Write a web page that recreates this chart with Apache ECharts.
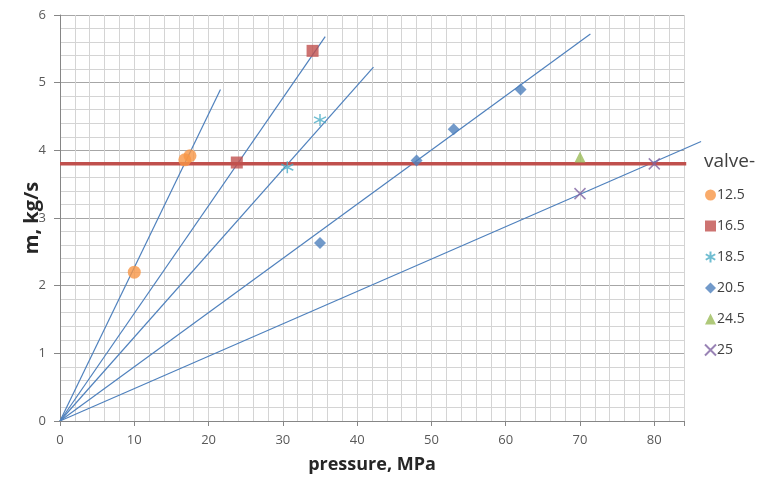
<!DOCTYPE html>
<html><head><meta charset="utf-8">
<script src="https://cdn.jsdelivr.net/npm/echarts@6/dist/echarts.min.js"></script>
<style>html,body{margin:0;padding:0;background:#fff}#c{width:763px;height:481px}</style>
</head><body><div id="c"></div>
<script>
// ---- data ----
const valveNames = ['12.5', '16.5', '18.5', '20.5', '24.5', '25'];
const pts125 = [[10, 2.2], [16.8, 3.86], [17.5, 3.92]];
const pts165 = [[23.8, 3.82], [34.0, 5.47]];
const pts185 = [[30.6, 3.75], [35.0, 4.45]];
const pts205 = [[35.0, 2.63], [48.0, 3.85], [53.0, 4.31], [62.0, 4.90]];
const pts245 = [[70.0, 3.90]];
const pts25  = [[70.0, 3.36], [80.0, 3.80]];
// trend lines (from origin to drawn end)
const trendEnds = [[21.6, 4.90], [35.7, 5.68], [42.2, 5.23], [71.4, 5.72], [86.3, 4.13]];
const limitLevel = 3.8;
const limitRange = [0, 84.3];
const xTicks = [0, 10, 20, 30, 40, 50, 60, 70, 80];
const yTicks = [0, 1, 2, 3, 4, 5, 6];

const colors = ['#F79646', '#C0504D', '#4BACC6', '#4F81BD', '#9BBB59', '#8064A2'];
const FONT = '"Open Sans", "Liberation Sans", sans-serif';

const chart = echarts.init(document.getElementById('c'), null, {renderer: 'canvas'});
const series = [];
series.push({
  type: 'custom', name: 'trend', data: trendEnds, clip: false, silent: true, z: 2,
  encode: {x: 0, y: 1},
  renderItem: function (params, api) {
    const p0 = api.coord([0, 0]);
    const p1 = api.coord([api.value(0), api.value(1)]);
    return {type: 'line', shape: {x1: p0[0], y1: p0[1], x2: p1[0], y2: p1[1]},
            style: {stroke: '#4F81BD', lineWidth: 1.2}};
  }
});
series.push({
  type: 'line', name: 'limit', data: [[limitRange[0], limitLevel], [limitRange[1], limitLevel]],
  symbol: 'none', clip: false, z: 3, lineStyle: {color: '#C0504D', width: 3.5}
});
const symSpec = [
  {symbol: 'circle', size: 13, style: {color: colors[0]}},
  {symbol: 'rect', size: 12, style: {color: colors[1]}},
  {symbol: 'path://M5,0L5,10M0.7,2.5L9.3,7.5M0.7,7.5L9.3,2.5', size: 12,
   style: {color: 'rgba(0,0,0,0)', borderColor: colors[2], borderWidth: 1.5}},
  {symbol: 'diamond', size: 12, style: {color: colors[3]}},
  {symbol: 'triangle', size: 11, style: {color: colors[4]}},
  {symbol: 'path://M0,0L10,10M0,10L10,0', size: 11,
   style: {color: 'rgba(0,0,0,0)', borderColor: colors[5], borderWidth: 1.5}}
];
const ptSets = [pts125, pts165, pts185, pts205, pts245, pts25];
ptSets.forEach((d, i) => {
  series.push({
    type: 'scatter', name: valveNames[i], data: d, z: 5,
    symbol: symSpec[i].symbol, symbolSize: symSpec[i].size,
    itemStyle: symSpec[i].style
  });
});

const axisLabel = {color: '#595959', fontSize: 13, fontFamily: FONT};
const nameStyle = {fontWeight: 'bold', color: '#262626', fontFamily: FONT};
chart.setOption({
  animation: false,
  backgroundColor: '#fff',
  grid: {left: 60, right: 79, top: 15, bottom: 60, containLabel: false},
  xAxis: [{
    type: 'value', min: 0, max: 84, interval: 10,
    name: 'pressure, MPa', nameLocation: 'middle', nameGap: 35,
    nameTextStyle: Object.assign({fontSize: 18}, nameStyle),
    axisLine: {show: true, lineStyle: {color: '#868686'}},
    axisTick: {show: true, length: 5, lineStyle: {color: '#868686'}},
    axisLabel: Object.assign({margin: 13, formatter: v => xTicks.includes(v) ? String(v) : ''}, axisLabel),
    splitLine: {show: false}, z: 3
  }, {
    type: 'value', min: 0, max: 84, interval: 2, position: 'bottom',
    axisLine: {show: false}, axisTick: {show: false}, axisLabel: {show: false},
    splitLine: {show: true, lineStyle: {color: '#d4d4d4', width: 1}}
  }],
  yAxis: {
    type: 'value', min: 0, max: 6, interval: 1,
    name: 'm, kg/s', nameLocation: 'middle', nameGap: 18, nameMoveOverlap: false,
    nameTextStyle: Object.assign({fontSize: 20}, nameStyle),
    axisLine: {show: true, lineStyle: {color: '#868686'}},
    axisTick: {show: true, length: 6, lineStyle: {color: '#868686'}},
    axisLabel: Object.assign({margin: 14, formatter: v => yTicks.includes(v) ? String(v) : ''}, axisLabel),
    splitLine: {show: true, lineStyle: {color: '#a6a6a6', width: 1}},
    minorTick: {show: false, splitNumber: 5},
    minorSplitLine: {show: true, lineStyle: {color: '#d4d4d4', width: 1}}
  },
  legend: {
    data: valveNames, orient: 'vertical', left: 699, top: 183,
    itemWidth: 11, itemHeight: 11, itemGap: 17,
    textStyle: {color: '#404040', fontSize: 14, fontFamily: FONT, padding: [0, 0, 0, -4]}
  },
  graphic: [{
    type: 'text', left: 704, top: 152,
    style: {text: 'valve-', fontSize: 19, fill: '#404040', fontFamily: FONT}
  }],
  series: series
});
</script></body></html>
